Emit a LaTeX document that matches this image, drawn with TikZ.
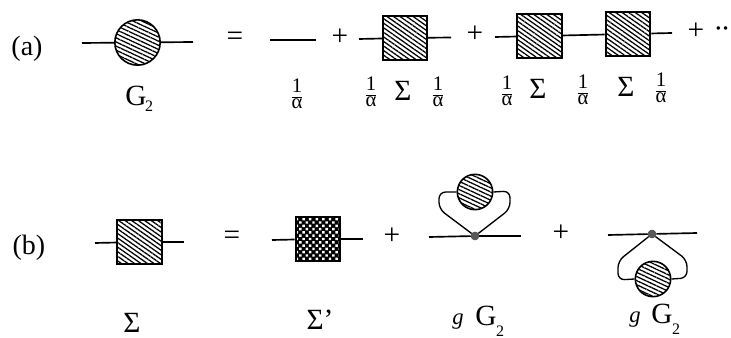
\documentclass[tikz,border=0pt]{standalone}
\usepackage{fontspec}
\setmainfont{Liberation Serif}
\usetikzlibrary{patterns.meta, positioning}
\newcommand{\oneoveralpha}{$\frac{\hbox{\rule[-2.8pt]{0pt}{1pt}1}}{\hbox{\rule{0pt}{8.4pt}α}}$}
\tikzset{
	blob/.style   ={circle, draw=black, line width=1.2pt, minimum size=34pt, inner sep=0pt, pattern={Lines[angle=-25, distance=2.8pt, line width=0.95pt]}},
	smallblob/.style={blob, minimum size=26.5pt},
	selfen/.style ={rectangle, draw=black, line width=1.5pt, minimum size=33.5pt, inner sep=0pt, pattern={Lines[angle=-35, distance=2.8pt, line width=0.95pt]}},
	meshen/.style ={rectangle, draw=black, line width=1.5pt, minimum size=33.5pt, inner sep=0pt, preaction={fill=black}, pattern color=white, pattern={Dots[distance=3.5pt, radius=1.3pt, angle=45]}},
	vertex/.style ={circle, fill=black!65, draw=black!70, minimum size=6pt, inner sep=0pt},
	prop/.style   ={line width=1.25pt},
	looped/.style ={line width=1pt, rounded corners=5pt},
	sym/.style    ={font=\fontsize{22}{22}\selectfont, inner sep=0pt},
	lab/.style    ={font=\fontsize{22}{22}\selectfont, inner sep=0pt},
	tagl/.style   ={font=\fontsize{21}{21}\selectfont, inner sep=0pt},
	frc/.style    ={font=\fontsize{15.5}{15.5}\selectfont, inner sep=0pt},
	subnum/.style ={font=\fontsize{12}{12}\selectfont, inner sep=0pt},
	slanted/.style={font=\fontsize{17}{17}\selectfont\itshape, inner sep=0pt},
}
\begin{document}
\begin{tikzpicture}[x=0.75pt, y=-0.75pt]
	\useasboundingbox (0,0) rectangle (731,338);
	% row (a)
	\node[tagl] (tagA) at (27,49) {(a)};
	\node[blob] (gA) at (137.5,42.5) {};
	\coordinate (gAl) at (82,43); \coordinate (gAr) at (193,42);
	\draw[prop] (gAl) -- (gA); \draw[prop] (gA) -- (gAr);
	\node[lab] (nameG) at (136,96) {G};
	\node[subnum] (nameGsub) at (149,106) {2};
	\node[sym] (eqA) at (235,39) {=};
	\coordinate (bareL) at (270,40); \coordinate (bareR) at (316,40);
	\draw[prop] (bareL) -- (bareR);
	\node[sym] (plusA) at (340,37) {+};
	\node[selfen] (sOne) at (405,38) {};
	\coordinate (sOnel) at (359,39); \coordinate (sOner) at (451,37.5);
	\draw[prop] (sOnel) -- (sOne); \draw[prop] (sOne) -- (sOner);
	\node[sym] (plusB) at (475,34) {+};
	\node[selfen] (sTwo) at (539.5,36) {};
	\node[selfen] (sThree) at (628,34) {};
	\coordinate (sTwol) at (495,37); \coordinate (sThreer) at (672,33);
	\draw[prop] (sTwol) -- (sTwo); \draw[prop] (sTwo) -- (sThree); \draw[prop] (sThree) -- (sThreer);
	\node[sym] (plusC) at (696,31) {+};
	\node[font=\fontsize{16}{16}\selectfont\bfseries, inner sep=0pt] (dotsA) at (722,31) {··};
	% labels under row (a)
	\node[frc] (fOne) at (297,94) {\oneoveralpha};
	\node[frc] (fTwo) at (371,92) {\oneoveralpha};
	\node[lab] (sigOne) at (403,91) {Σ};
	\node[frc] (fThree) at (438,92) {\oneoveralpha};
	\node[frc] (fFour) at (507,91) {\oneoveralpha};
	\node[lab] (sigTwo) at (538,89) {Σ};
	\node[frc] (fFive) at (583,90) {\oneoveralpha};
	\node[lab] (sigThree) at (626,87) {Σ};
	\node[frc] (fSix) at (661,88) {\oneoveralpha};
	% row (b)
	\node[tagl] (tagB) at (29,248) {(b)};
	\node[selfen] (sB) at (139.5,242) {};
	\coordinate (sBl) at (95,243); \coordinate (sBr) at (184,242);
	\draw[prop] (sBl) -- (sB); \draw[prop] (sB) -- (sBr);
	\node[sym] (eqB) at (232,238) {=};
	\node[meshen] (mB) at (318,239) {};
	\coordinate (mBl) at (272,240); \coordinate (mBr) at (363,239);
	\draw[prop] (mBl) -- (mB); \draw[prop] (mB) -- (mBr);
	\node[sym] (plusD) at (392,236) {+};
	% loop above the line
	\node[vertex] (vUp) at (475,236) {};
	\coordinate (upL) at (429,237); \coordinate (upR) at (521,236);
	\draw[prop] (upL) -- (vUp); \draw[prop] (vUp) -- (upR);
	\node[smallblob] (gUp) at (475,192) {};
	\draw[looped] (vUp) -- (439,209) -- (439,192) -- (gUp.west);
	\draw[looped] (vUp) -- (510,209) -- (510,191) -- (gUp.east);
	\node[sym] (plusE) at (561,233) {+};
	% loop below the line
	\node[vertex] (vDn) at (652,234) {};
	\coordinate (dnL) at (608,235); \coordinate (dnR) at (697,233);
	\draw[prop] (dnL) -- (vDn); \draw[prop] (vDn) -- (dnR);
	\node[smallblob] (gDn) at (653,279) {};
	\draw[looped] (vDn) -- (618,261) -- (618,280) -- (gDn.west);
	\draw[looped] (vDn) -- (687,260) -- (687,278) -- (gDn.east);
	% labels under row (b)
	\node[lab] (sigB) at (132,323) {Σ};
	\node[lab] (sigPrime) at (320,320) {Σ’};
	\node[slanted] (gOne) at (458,322) {g};
	\node[lab] (gTwo) at (486,316) {G};
	\node[subnum] (gTwoSub) at (500,331) {2};
	\node[slanted] (gThree) at (635,320) {g};
	\node[lab] (gFour) at (662,314) {G};
	\node[subnum] (gFourSub) at (676,329) {2};
\end{tikzpicture}
\end{document}
